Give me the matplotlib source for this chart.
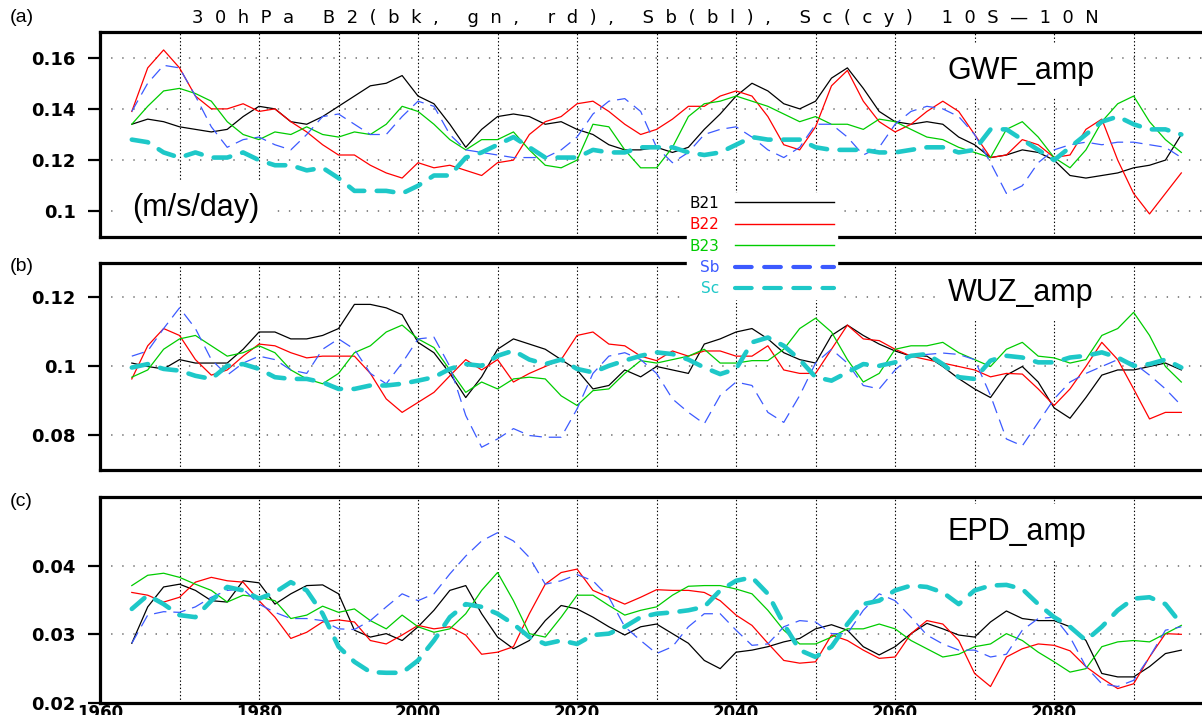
import matplotlib
matplotlib.use("Agg")
import matplotlib.pyplot as plt
from matplotlib.lines import Line2D

plt.rcParams['lines.scale_dashes'] = False

# 9-yr smoothed series, every second year
years = list(range(1964, 2097, 2))

# GWF amplitude (m/s/day)
gwf_b21 = [0.134, 0.136, 0.135, 0.133, 0.132, 0.131, 0.132, 0.137, 0.141, 0.140,
           0.135, 0.134, 0.137, 0.141, 0.145, 0.149, 0.150, 0.153, 0.145, 0.142,
           0.134, 0.125, 0.132, 0.137, 0.138, 0.137, 0.134, 0.135, 0.132, 0.130,
           0.126, 0.124, 0.124, 0.125, 0.123, 0.125, 0.132, 0.138, 0.145, 0.150,
           0.147, 0.142, 0.140, 0.143, 0.152, 0.156, 0.148, 0.139, 0.135, 0.134,
           0.135, 0.134, 0.129, 0.126, 0.121, 0.122, 0.124, 0.123, 0.120, 0.114,
           0.113, 0.114, 0.115, 0.117, 0.118, 0.120, 0.130]
gwf_b22 = [0.139, 0.156, 0.163, 0.156, 0.145, 0.140, 0.140, 0.142, 0.139, 0.140,
           0.135, 0.131, 0.126, 0.122, 0.122, 0.118, 0.115, 0.113, 0.119, 0.117,
           0.118, 0.116, 0.114, 0.119, 0.120, 0.130, 0.135, 0.137, 0.142, 0.143,
           0.139, 0.134, 0.130, 0.132, 0.136, 0.141, 0.141, 0.145, 0.147, 0.145,
           0.137, 0.126, 0.124, 0.133, 0.149, 0.155, 0.143, 0.135, 0.131, 0.134,
           0.139, 0.143, 0.139, 0.130, 0.121, 0.122, 0.128, 0.126, 0.121, 0.122,
           0.132, 0.136, 0.120, 0.107, 0.099, 0.107, 0.115]
gwf_b23 = [0.134, 0.141, 0.147, 0.148, 0.146, 0.143, 0.135, 0.130, 0.128, 0.131,
           0.130, 0.133, 0.130, 0.129, 0.131, 0.130, 0.134, 0.141, 0.139, 0.134,
           0.128, 0.124, 0.128, 0.128, 0.131, 0.124, 0.118, 0.117, 0.120, 0.134,
           0.133, 0.124, 0.117, 0.117, 0.125, 0.137, 0.142, 0.143, 0.145, 0.143,
           0.141, 0.138, 0.135, 0.137, 0.134, 0.134, 0.132, 0.136, 0.135, 0.132,
           0.129, 0.128, 0.125, 0.123, 0.121, 0.132, 0.135, 0.129, 0.121, 0.117,
           0.124, 0.135, 0.142, 0.145, 0.135, 0.128, 0.123]
gwf_sb = [0.139, 0.150, 0.157, 0.156, 0.145, 0.133, 0.125, 0.128, 0.129, 0.126,
          0.124, 0.130, 0.137, 0.138, 0.134, 0.130, 0.130, 0.137, 0.143, 0.141,
          0.130, 0.124, 0.123, 0.122, 0.121, 0.121, 0.121, 0.124, 0.129, 0.138,
          0.143, 0.144, 0.139, 0.125, 0.119, 0.123, 0.130, 0.132, 0.133, 0.129,
          0.124, 0.121, 0.125, 0.134, 0.134, 0.129, 0.122, 0.125, 0.134, 0.139,
          0.141, 0.140, 0.137, 0.130, 0.119, 0.107, 0.110, 0.119, 0.124, 0.126,
          0.127, 0.126, 0.127, 0.127, 0.126, 0.125, 0.121]
gwf_sc = [0.128, 0.127, 0.123, 0.121, 0.123, 0.121, 0.121, 0.123, 0.120, 0.118,
          0.118, 0.116, 0.117, 0.113, 0.108, 0.108, 0.108, 0.107, 0.110, 0.114,
          0.114, 0.121, 0.123, 0.126, 0.129, 0.125, 0.121, 0.121, 0.121, 0.124,
          0.123, 0.123, 0.125, 0.125, 0.125, 0.123, 0.122, 0.123, 0.126, 0.129,
          0.128, 0.128, 0.128, 0.125, 0.124, 0.124, 0.124, 0.123, 0.123, 0.124,
          0.125, 0.125, 0.123, 0.124, 0.132, 0.132, 0.128, 0.124, 0.120, 0.125,
          0.130, 0.135, 0.137, 0.134, 0.132, 0.132, 0.130]

# WUZ amplitude
wuz_b21 = [0.101, 0.100, 0.0993, 0.102, 0.101, 0.101, 0.101, 0.105, 0.110, 0.110,
           0.108, 0.108, 0.109, 0.111, 0.118, 0.118, 0.117, 0.115, 0.107, 0.104,
           0.098, 0.091, 0.097, 0.105, 0.108, 0.1065, 0.105, 0.102, 0.099, 0.0935,
           0.0945, 0.099, 0.097, 0.100, 0.099, 0.098, 0.1065, 0.108, 0.110, 0.111,
           0.108, 0.104, 0.102, 0.101, 0.109, 0.112, 0.109, 0.1065, 0.1045, 0.103,
           0.103, 0.100, 0.0965, 0.0935, 0.091, 0.0975, 0.100, 0.0955, 0.088, 0.085,
           0.091, 0.0975, 0.099, 0.099, 0.100, 0.101, 0.099]
wuz_b22 = [0.0964, 0.106, 0.111, 0.109, 0.102, 0.0975, 0.099, 0.103, 0.1065, 0.106,
           0.104, 0.1025, 0.103, 0.103, 0.103, 0.098, 0.0906, 0.0867, 0.0896, 0.0925,
           0.0973, 0.102, 0.099, 0.102, 0.0955, 0.098, 0.100, 0.102, 0.109, 0.110,
           0.1065, 0.106, 0.103, 0.1017, 0.1045, 0.103, 0.1045, 0.1045, 0.103, 0.103,
           0.106, 0.099, 0.098, 0.098, 0.105, 0.112, 0.108, 0.1075, 0.105, 0.103,
           0.102, 0.101, 0.100, 0.099, 0.097, 0.098, 0.0978, 0.0935, 0.0887, 0.0935,
           0.100, 0.107, 0.102, 0.0935, 0.0848, 0.0867, 0.0867]
wuz_b23 = [0.0969, 0.099, 0.105, 0.108, 0.109, 0.106, 0.103, 0.104, 0.106, 0.104,
           0.099, 0.0964, 0.095, 0.098, 0.104, 0.106, 0.110, 0.112, 0.108, 0.1055,
           0.099, 0.0925, 0.0955, 0.0935, 0.0964, 0.0969, 0.0964, 0.0915, 0.0887, 0.093,
           0.0935, 0.098, 0.1017, 0.101, 0.102, 0.103, 0.105, 0.101, 0.101, 0.1017,
           0.1017, 0.105, 0.111, 0.114, 0.110, 0.102, 0.0955, 0.098, 0.105, 0.106,
           0.106, 0.107, 0.104, 0.102, 0.100, 0.105, 0.107, 0.103, 0.1025, 0.101,
           0.102, 0.109, 0.111, 0.1157, 0.109, 0.100, 0.0955]
wuz_sb = [0.103, 0.1045, 0.111, 0.117, 0.111, 0.102, 0.0975, 0.101, 0.103, 0.102,
          0.099, 0.098, 0.105, 0.108, 0.105, 0.098, 0.095, 0.101, 0.108, 0.1085,
          0.100, 0.0858, 0.0766, 0.079, 0.082, 0.080, 0.0795, 0.0795, 0.0877, 0.098,
          0.103, 0.104, 0.102, 0.098, 0.0906, 0.0867, 0.0834, 0.0916, 0.0955, 0.0945,
          0.0867, 0.0838, 0.0916, 0.101, 0.105, 0.101, 0.0945, 0.0935, 0.099, 0.103,
          0.1035, 0.1039, 0.1035, 0.102, 0.0916, 0.079, 0.077, 0.0838, 0.0906, 0.0955,
          0.098, 0.100, 0.102, 0.101, 0.0975, 0.0935, 0.0887]
wuz_sc = [0.0997, 0.1007, 0.0993, 0.0988, 0.0973, 0.0964, 0.1002, 0.1007, 0.0993, 0.0969,
          0.0964, 0.0964, 0.0954, 0.0935, 0.0935, 0.0945, 0.0945, 0.095, 0.0959, 0.0969,
          0.0993, 0.1007, 0.1002, 0.1031, 0.1046, 0.102, 0.1007, 0.102, 0.0993, 0.0983,
          0.1002, 0.1017, 0.1031, 0.1041, 0.1036, 0.102, 0.0997, 0.0978, 0.0993, 0.107,
          0.1084, 0.106, 0.102, 0.0969, 0.0959, 0.0983, 0.1007, 0.1002, 0.1012, 0.1031,
          0.1036, 0.1007, 0.0969, 0.0964, 0.1017, 0.1031, 0.1026, 0.1012, 0.1012, 0.1026,
          0.1031, 0.1041, 0.1026, 0.1002, 0.1007, 0.102, 0.0997]

# EPD amplitude
epd_b21 = [0.0287, 0.034, 0.0369, 0.0373, 0.0364, 0.0349, 0.0347, 0.0378, 0.0375, 0.0344,
           0.0359, 0.0371, 0.0372, 0.0359, 0.0306, 0.0296, 0.0301, 0.0291, 0.0311, 0.0335,
           0.0364, 0.0371, 0.033, 0.0296, 0.0279, 0.0291, 0.032, 0.0342, 0.0337, 0.0325,
           0.0311, 0.0299, 0.0311, 0.0315, 0.0301, 0.0287, 0.0262, 0.025, 0.0274, 0.0277,
           0.0282, 0.0289, 0.0294, 0.0308, 0.0314, 0.0306, 0.0282, 0.027, 0.0282, 0.0301,
           0.0316, 0.0308, 0.0299, 0.0296, 0.0318, 0.0334, 0.0323, 0.032, 0.032, 0.0311,
           0.0291, 0.0243, 0.0238, 0.0238, 0.0253, 0.0272, 0.0277]
epd_b22 = [0.0361, 0.0357, 0.0347, 0.0354, 0.0376, 0.0383, 0.0378, 0.0376, 0.0349, 0.0325,
           0.0294, 0.0303, 0.0318, 0.0321, 0.0318, 0.0291, 0.0286, 0.0299, 0.0313, 0.0308,
           0.0311, 0.0299, 0.0271, 0.0274, 0.0282, 0.033, 0.0373, 0.039, 0.0395, 0.0364,
           0.0354, 0.0344, 0.0354, 0.0365, 0.0364, 0.0364, 0.0361, 0.0349, 0.0328, 0.0313,
           0.0287, 0.0262, 0.0258, 0.026, 0.0299, 0.0291, 0.0277, 0.0265, 0.0267, 0.0301,
           0.032, 0.0315, 0.0291, 0.0243, 0.0224, 0.0267, 0.0279, 0.0286, 0.0284, 0.0276,
           0.0253, 0.0236, 0.0221, 0.0228, 0.0267, 0.0301, 0.030]
epd_b23 = [0.0371, 0.0386, 0.0389, 0.0383, 0.0373, 0.0364, 0.0347, 0.0357, 0.0354, 0.0349,
           0.0323, 0.0328, 0.0341, 0.0332, 0.0337, 0.032, 0.0308, 0.0328, 0.0311, 0.0303,
           0.0308, 0.033, 0.0364, 0.039, 0.0349, 0.0301, 0.0296, 0.0325, 0.0357, 0.0357,
           0.0342, 0.0328, 0.0335, 0.034, 0.0357, 0.037, 0.0371, 0.0371, 0.0366, 0.0359,
           0.0335, 0.0306, 0.0286, 0.0286, 0.0296, 0.0308, 0.0308, 0.0315, 0.0308, 0.0291,
           0.0279, 0.0267, 0.0271, 0.0282, 0.0286, 0.0301, 0.0291, 0.0274, 0.026, 0.0245,
           0.025, 0.0282, 0.0289, 0.0291, 0.0289, 0.0301, 0.0313]
epd_sb = [0.0287, 0.0328, 0.0333, 0.0332, 0.034, 0.0354, 0.0364, 0.0366, 0.0344, 0.0332,
          0.0323, 0.0323, 0.032, 0.0308, 0.0307, 0.032, 0.034, 0.0359, 0.0349, 0.0359,
          0.0388, 0.0414, 0.0436, 0.0448, 0.0436, 0.0412, 0.0373, 0.0378, 0.0387, 0.0378,
          0.0354, 0.0311, 0.0291, 0.0272, 0.0282, 0.0311, 0.033, 0.033, 0.0306, 0.0284,
          0.0286, 0.0311, 0.032, 0.0318, 0.0301, 0.0301, 0.0335, 0.0359, 0.0349, 0.0325,
          0.0299, 0.0286, 0.0277, 0.0277, 0.0267, 0.0271, 0.0306, 0.0323, 0.0325, 0.0296,
          0.0253, 0.0228, 0.0224, 0.0233, 0.0267, 0.0306, 0.0311]
epd_sc = [0.0337, 0.0357, 0.0344, 0.0328, 0.0325, 0.0349, 0.0369, 0.0364, 0.0352, 0.0361,
          0.0376, 0.0364, 0.033, 0.0282, 0.026, 0.0245, 0.0244, 0.0244, 0.0262, 0.0291,
          0.0325, 0.0344, 0.034, 0.033, 0.0315, 0.0296, 0.0286, 0.0291, 0.0286, 0.0299,
          0.0301, 0.0311, 0.0325, 0.033, 0.0332, 0.0335, 0.034, 0.0364, 0.0378, 0.0383,
          0.0359, 0.0315, 0.0277, 0.0267, 0.0282, 0.0315, 0.0344, 0.0349, 0.0364, 0.0371,
          0.0369, 0.0361, 0.0344, 0.0364, 0.0371, 0.0372, 0.0366, 0.0344, 0.0325, 0.0311,
          0.0291, 0.0311, 0.0335, 0.0352, 0.0354, 0.0344, 0.0315]

series_names = ["B21", "B22", "B23", "Sb", "Sc"]
series_colors = ["black", "#ff0000", "#00cc00", "#3c5aff", "#1ec8c8"]

xticks = [1960, 1980, 2000, 2020, 2040, 2060, 2080]
xlabels = ["1960", "1980", "2000", "2020", "2040", "2060", "2080"]

panels = [
    dict(tag="(a)", name="GWF_amp", data=[gwf_b21, gwf_b22, gwf_b23, gwf_sb, gwf_sc],
         ylim=(0.09, 0.17), yticks=[0.10, 0.12, 0.14, 0.16],
         ylabels=["0.1", "0.12", "0.14", "0.16"]),
    dict(tag="(b)", name="WUZ_amp", data=[wuz_b21, wuz_b22, wuz_b23, wuz_sb, wuz_sc],
         ylim=(0.07, 0.13), yticks=[0.08, 0.10, 0.12],
         ylabels=["0.08", "0.1", "0.12"]),
    dict(tag="(c)", name="EPD_amp", data=[epd_b21, epd_b22, epd_b23, epd_sb, epd_sc],
         ylim=(0.02, 0.05), yticks=[0.02, 0.03, 0.04],
         ylabels=["0.02", "0.03", "0.04"]),
]

# pixel boxes (top, bottom) of each panel in a 1202x715 canvas
W, H = 1202, 715
boxes = [(32, 237), (263, 470), (497, 703)]
tag_y = [18, 267, 502]
name_y = [0.81, 0.855, 0.83]

fig = plt.figure(figsize=(W / 100, H / 100), dpi=100)

axes = []
for p, (top, bot), ty, ny in zip(panels, boxes, tag_y, name_y):
    ax = fig.add_axes([100 / W, 1 - bot / H, 1102 / W, (bot - top) / H])
    axes.append(ax)
    ax.set_xlim(1960, 2098.6)
    ax.set_ylim(*p["ylim"])

    for vals, name, col in zip(p["data"], series_names, series_colors):
        if name == "Sc":
            ax.plot(years, vals, color=col, lw=3.3, dashes=(12, 9),
                    dash_capstyle="round", zorder=4)
        elif name == "Sb":
            ax.plot(years, vals, color=col, lw=0.9, dashes=(9, 5), zorder=3)
        else:
            ax.plot(years, vals, color=col, lw=0.9, zorder=3)

    for x in range(1970, 2100, 10):
        ax.axvline(x, color="black", lw=0.8, ls=(0, (1, 1.6)), zorder=1)
    for y in p["yticks"]:
        ax.axhline(y, color="#808080", lw=1.3, ls=(0, (1, 7)), zorder=1)

    for side in ("left", "top", "bottom"):
        ax.spines[side].set_linewidth(2.3)
    ax.spines["right"].set_visible(False)

    ax.set_yticks(p["yticks"], p["ylabels"])
    ax.tick_params(axis="y", length=8.5, width=1.6, pad=9, labelsize=13)
    ax.set_xticks(xticks, xlabels if p["tag"] == "(c)" else [])
    ax.tick_params(axis="x", length=0, pad=1, labelsize=12)
    for lab in ax.get_yticklabels() + ax.get_xticklabels():
        lab.set_fontweight("bold")

    ax.text(0.7695, ny, p["name"], transform=ax.transAxes, ha="left", va="center",
            fontsize=22, family="Liberation Sans", zorder=1.8,
            bbox=dict(facecolor="white", edgecolor="none", pad=9))

    fig.text(10 / W, 1 - ty / H, p["tag"], ha="left", va="center",
             fontsize=14, family="Liberation Sans")

axes[0].text(0.029, 0.14, "(m/s/day)", transform=axes[0].transAxes, ha="left",
             va="center", fontsize=22, family="Liberation Sans", zorder=1.8,
             bbox=dict(facecolor="white", edgecolor="none", pad=10))

title = "30hPa B2(bk, gn, rd), Sb(bl), Sc(cy) 10S\u201410N"
fig.text(645 / W, 1 - 18 / H, "  ".join(title), ha="center", va="center",
         fontsize=13, family="DejaVu Sans")

handles = [Line2D([], [], color=series_colors[0], lw=1.0),
           Line2D([], [], color=series_colors[1], lw=1.0),
           Line2D([], [], color=series_colors[2], lw=1.0),
           Line2D([], [], color=series_colors[3], lw=3.0, dashes=(12, 9),
                  dash_capstyle="round"),
           Line2D([], [], color=series_colors[4], lw=3.0, dashes=(12, 9),
                  dash_capstyle="round")]
fig.legend(handles, series_names, loc="upper left",
           bbox_to_anchor=(679 / W, 1 - 185 / H), markerfirst=False,
           handlelength=6.5, handletextpad=1.0, labelspacing=0.42, borderpad=0.2,
           fontsize=11, frameon=True, fancybox=False, edgecolor="white",
           facecolor="white", framealpha=1, labelcolor=series_colors)

fig.savefig("out.png", dpi=100)
